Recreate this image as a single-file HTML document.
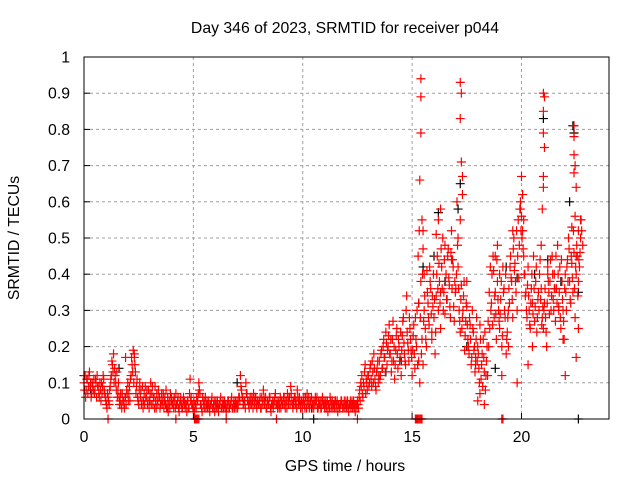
<!DOCTYPE html>
<html><head><meta charset="utf-8"><style>
body{margin:0;background:#fff}
svg{display:block;font-family:"Liberation Sans",sans-serif}
</style></head><body>
<svg id="c" width="640" height="480">
<rect width="640" height="480" fill="#fff"/>
<text x="345" y="33" text-anchor="middle" font-size="15.8">Day 346 of 2023, SRMTID for receiver p044</text>
<text x="345" y="471" text-anchor="middle" font-size="15.8">GPS time / hours</text>
<text transform="translate(19,238) rotate(-90)" text-anchor="middle" font-size="15.8">SRMTID / TECUs</text>
<g id="grid"></g><g id="ticks"></g><g id="pts"></g>
<rect x="84" y="57" width="525" height="362" fill="none" stroke="#000"/>
</svg>
<script>
const xTicks=[0,5,10,15,20];
const yTicks=[0,0.1,0.2,0.3,0.4,0.5,0.6,0.7,0.8,0.9,1];
const yTickLabels=["0","0.1","0.2","0.3","0.4","0.5","0.6","0.7","0.8","0.9","1"];
const redStep=0.05;
const redV=[.10,.12,.08,.11,.09,.13,.10,.07,.09,.11,.08,.10,.12,.09,.06,.08,.10,.09,.11,.07,
.05,.03,.06,.04,.09,.12,.15,.18,.14,.10,.13,.08,.06,.05,.04,.07,.05,.03,.06,.08,
.10,.07,.05,.12,.15,.19,.17,.13,.09,.06,.04,.10,.08,.05,.03,.07,.09,.06,.04,.08,
.05,.10,.07,.04,.06,.09,.03,.05,.08,.06,.04,.07,.05,.03,.06,.08,.04,.02,.05,.07,
.06,.04,.03,.05,.07,.04,.06,.02,.05,.04,.03,.06,.05,.04,.02,.05,.03,.11,.06,.04,
.03,.02,.04,.06,.05,.10,.07,.04,.02,.05,.03,.06,.04,.03,.05,.02,.04,.06,.03,.05,
.04,.03,.05,.02,.04,.06,.03,.05,.04,.03,.02,.04,.05,.03,.04,.06,.03,.05,.04,.03,
.05,.04,.06,.12,.08,.06,.04,.05,.10,.07,.05,.03,.06,.04,.05,.07,.04,.06,.03,.05,
.04,.06,.03,.05,.08,.04,.06,.03,.05,.04,.06,.02,.04,.03,.05,.07,.04,.03,.05,.04,
.03,.05,.04,.06,.03,.05,.07,.04,.06,.09,.05,.03,.04,.06,.05,.08,.04,.06,.03,.05,
.04,.06,.03,.05,.07,.04,.03,.05,.06,.04,.03,.05,.04,.06,.03,.04,.05,.03,.06,.04,
.03,.05,.04,.02,.04,.06,.03,.05,.04,.03,.05,.04,.02,.04,.03,.05,.04,.03,.05,.04,
.03,.05,.02,.04,.03,.05,.04,.03,.02,.04,.05,.03,.08,.10,.12,.06,.09,.15,.11,.08,
.12,.10,.15,.09,.13,.18,.11,.08,.14,.10,.16,.12,.19,.14,.22,.17,.24,.15,.20,.26,
.18,.13,.22,.16,.11,.19,.25,.14,.20,.17,.12,.23,.28,.18,.15,.34,.21,.16,.25,.19,
.12,.23,.18,.28,.20,.15,.32,.66,.38,.22,.15,.30,.25,.20,.35,.28,.42,.36,.24,.31,
.28,.18,.34,.45,.30,.38,.25,.42,.50,.35,.29,.40,.33,.47,.37,.28,.52,.44,.31,.38,
.36,.60,.42,.30,.24,.37,.28,.34,.19,.27,.31,.22,.18,.26,.15,.30,.24,.20,.17,.28,
.20,.14,.26,.11,.18,.22,.13,.08,.16,.12,.20,.25,.30,.40,.45,.28,.35,.22,.38,.30,
.25,.33,.20,.42,.36,.28,.18,.24,.20,.32,.45,.38,.28,.50,.43,.35,.30,.55,.48,.60,
.56,.52,.45,.40,.35,.28,.42,.30,.25,.36,.32,.45,.27,.38,.24,.33,.30,.44,.36,.28,
.25,.32,.28,.20,.42,.35,.38,.30,.45,.33,.40,.27,.36,.48,.31,.42,.25,.38,.30,.22,
.40,.30,.44,.50,.38,.32,.43,.35,.46,.28,.40,.45,.38,.42,.50];
const redV2=[.08,.06,.11,.07,.12,.09,.06,.10,.08,.07,.11,.06,.09,.07,.10,.05,.07,.12,.08,.06,
.04,.07,.05,.08,.11,.16,.13,.10,.12,.08,.06,.10,.04,.07,.03,.05,.04,.06,.04,.07,
.05,.09,.11,.17,.13,.10,.15,.07,.11,.05,.08,.06,.04,.09,.05,.04,.06,.08,.05,.03,
.07,.04,.09,.06,.03,.05,.07,.04,.06,.03,.05,.04,.07,.05,.04,.03,.06,.04,.03,.05,
.04,.05,.06,.03,.04,.05,.03,.04,.06,.03,.05,.04,.03,.04,.05,.03,.07,.05,.04,.03,
.05,.04,.03,.05,.07,.08,.04,.03,.06,.04,.05,.03,.05,.04,.03,.04,.05,.03,.04,.02,
.05,.04,.03,.04,.05,.03,.04,.03,.05,.04,.03,.05,.03,.04,.05,.03,.04,.03,.05,.04,
.03,.06,.05,.09,.06,.04,.05,.03,.07,.05,.04,.05,.04,.06,.03,.05,.06,.04,.05,.04,
.05,.03,.06,.04,.06,.05,.03,.05,.04,.06,.03,.04,.05,.04,.06,.04,.05,.04,.03,.06,
.05,.04,.06,.04,.05,.03,.05,.06,.04,.07,.04,.05,.06,.04,.03,.06,.05,.04,.05,.03,
.05,.04,.06,.03,.05,.06,.04,.05,.03,.05,.04,.06,.05,.03,.05,.04,.03,.05,.04,.05,
.04,.03,.05,.04,.03,.05,.04,.03,.04,.05,.03,.05,.04,.03,.04,.05,.03,.04,.03,.05,
.04,.03,.04,.05,.04,.03,.05,.04,.04,.03,.04,.06,.05,.09,.07,.10,.13,.07,.10,.12,
.09,.14,.11,.16,.10,.14,.09,.13,.16,.12,.11,.18,.14,.20,.17,.13,.21,.19,.23,.18,
.22,.16,.27,.20,.15,.23,.18,.22,.16,.24,.19,.27,.21,.16,.30,.24,.19,.28,.22,.17,
.19,.26,.14,.22,.30,.45,.52,.28,.18,.40,.27,.34,.22,.41,.32,.26,.38,.29,.34,.40,
.33,.24,.40,.36,.43,.32,.47,.36,.30,.44,.38,.33,.45,.39,.31,.46,.36,.42,.27,.35,
.40,.48,.36,.27,.33,.25,.30,.38,.23,.32,.26,.20,.28,.22,.17,.25,.19,.13,.22,.16,
.18,.10,.22,.15,.09,.17,.24,.12,.20,.27,.35,.42,.32,.26,.41,.34,.29,.44,.33,.27,
.29,.38,.23,.35,.30,.40,.22,.28,.36,.42,.39,.33,.47,.41,.38,.52,.45,.39,.58,.52,
.50,.47,.40,.34,.30,.37,.34,.26,.32,.40,.29,.36,.31,.42,.28,.35,.40,.33,.26,.31,
.30,.36,.24,.32,.38,.29,.44,.34,.40,.30,.36,.45,.32,.40,.35,.28,.44,.33,.27,.36,
.35,.42,.38,.47,.33,.45,.39,.52,.36,.42,.48,.34,.44,.46,.55];
const redExtraT=[15.4,15.4,15.4,15.45,15.5,15.5,15.55,15.3,15.35,16.2,16.1,16.5,16.8,17.2,17.25,17.2,17.25,17.3,17.3,17.2,17.1,17.5,17.9,18.1,18.3,18.8,18.9,19.0,19.1,19.4,19.6,20.0,20.05,19.95,20.1,21.0,21.05,21.0,21.0,21.05,21.0,21.0,20.95,20.9,21.5,21.2,22.0,22.4,22.4,22.4,22.45,22.4,22.5,22.45,22.3,22.6,22.5,22.6,22.7,22.75,22.8,22.5,21.7,21.9,20.5,20.3,19.8,18.0,16.3,16.3,15.9,1.9,2.3,
1.1,4.2,5.05,5.1,5.15,5.2,5.25,6.5,8.8,12.5,15.15,15.2,15.25,15.3,15.35,15.4,15.45,19.1,19.15];
const redExtraV=[.94,.89,.79,.55,.52,.47,.40,.16,.10,.55,.51,.48,.44,.93,.90,.83,.71,.67,.62,.55,.50,.38,.15,.07,.04,.45,.48,.40,.12,.30,.52,.67,.62,.58,.55,.90,.89,.85,.79,.75,.67,.64,.58,.48,.36,.40,.12,.81,.78,.73,.70,.68,.64,.56,.53,.52,.45,.25,.55,.52,.48,.17,.30,.22,.20,.15,.10,.05,.58,.35,.22,.17,.18,
0,0,0,0,0,0,0,0,0,0,0,0,0,0,0,0,0,0,0];
const blackT=[0.0,0.3,1.6,3.0,3.8,7.0,10.4,13.8,14.5,15.5,16.2,16.5,17.1,17.2,17.5,18.8,19.8,20.6,21.0,21.2,22.35,22.4,22.2,22.6,21.8,19.3,15.3,16.0,10.5,22.6];
const blackV=[.12,.08,.14,.05,.03,.10,.03,.13,.16,.42,.57,.38,.58,.65,.20,.14,.39,.40,.83,.44,.81,.79,.60,.35,.38,.42,.32,.45,0,0];

const X0=84,X1=609,Y0=419,Y1=57,XMAX=24;
const xs=t=>X0+(X1-X0)*t/XMAX;
const ys=v=>Y0-(Y0-Y1)*v;
const NS="http://www.w3.org/2000/svg";
function mk(tag,attrs,parent){const e=document.createElementNS(NS,tag);for(const k in attrs)e.setAttribute(k,attrs[k]);parent.appendChild(e);return e;}
const grid=document.getElementById('grid'),ticks=document.getElementById('ticks'),pts=document.getElementById('pts');
xTicks.forEach(t=>{
  const x=xs(t);
  if(t>0){const g=mk('line',{x1:x,x2:x,y1:Y1,y2:Y0,stroke:'#a0a0a0','stroke-dasharray':'3,3'},grid);
  
  }
  const l=mk('line',{x1:x,x2:x,y1:Y0,y2:Y0-6,stroke:'#000'},ticks);
  
  
  const tx=mk('text',{x:x,y:Y0+23,'text-anchor':'middle','font-size':'15.8'},ticks);
  tx.textContent=String(t);
  
  
});
yTicks.forEach((v,i)=>{
  const y=ys(v);
  if(v>0&&v<1){const g=mk('line',{x1:X0,x2:X1,y1:y,y2:y,stroke:'#a0a0a0','stroke-dasharray':'3,3'},grid);
  
  }
  const l=mk('line',{x1:X0,x2:X0+6,y1:y,y2:y,stroke:'#000'},ticks);
  
  
  const tx=mk('text',{x:X0-14,y:y+5.5,'text-anchor':'end','font-size':'15.8'},ticks);
  tx.textContent=yTickLabels[i];
  
  
});
function plus(t,v,col,name){
  const x=xs(t),y=ys(v);
  const p=mk('path',{d:`M${x-4.5},${y}h9M${x},${y-4.5}v9`,stroke:col,'stroke-width':'1.2',fill:'none'},pts);
  
  
}
blackT.forEach((t,i)=>plus(t,blackV[i],'#000','black-point'));
redV.forEach((v,i)=>plus(i*redStep,v,'#f00','red-point'));
redV2.forEach((v,i)=>plus(i*redStep+0.025,v,'#f00','red-point'));
redExtraT.forEach((t,i)=>plus(t,redExtraV[i],'#f00','red-point'));
</script>
</body></html>
